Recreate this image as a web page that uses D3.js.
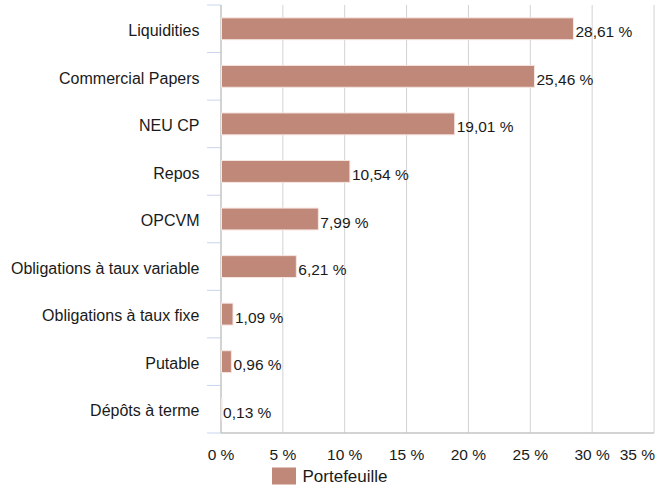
<!DOCTYPE html>
<html>
<head>
<meta charset="utf-8">
<script src="https://cdn.jsdelivr.net/npm/d3@7"></script>
<style>
  html, body { margin: 0; padding: 0; background: #fff; }
  svg { display: block; font-family: "Liberation Sans", Arial, Helvetica, sans-serif; }
</style>
</head>
<body>
<svg id="chart" width="672" height="489"></svg>
<script>
// Portfolio breakdown by instrument type (% of assets)
const categories = [
  "Liquidities", "Commercial Papers", "NEU CP", "Repos", "OPCVM",
  "Obligations à taux variable", "Obligations à taux fixe", "Putable", "Dépôts à terme"
];
const values = [28.61, 25.46, 19.01, 10.54, 7.99, 6.21, 1.09, 0.96, 0.13];
const valueLabels = ["28,61 %", "25,46 %", "19,01 %", "10,54 %", "7,99 %", "6,21 %", "1,09 %", "0,96 %", "0,13 %"];
const xTicks = [0, 5, 10, 15, 20, 25, 30, 35];
const xTickLabels = ["0 %", "5 %", "10 %", "15 %", "20 %", "25 %", "30 %", "35 %"];
const seriesName = "Portefeuille";

const svg = d3.select("#chart");
const plotLeft = 221, plotRight = 654, plotTop = 5, plotBottom = 433;
const barColor = "#c08878";
const textColor = "#1a1a1a";
const fontSize = 15.5;

const x = d3.scaleLinear().domain([0, 35]).range([plotLeft, plotRight]);
const y = d3.scaleBand().domain(categories).range([plotTop, plotBottom]).paddingInner(0.54).paddingOuter(0.27);
const band = d3.scaleBand().domain(categories).range([plotTop, plotBottom]);

// vertical gridlines
svg.append("g").selectAll("line").data(xTicks.slice(1)).join("line")
  .attr("x1", d => x(d)).attr("x2", d => x(d))
  .attr("y1", plotTop).attr("y2", plotBottom)
  .attr("stroke", "#d2d2d2").attr("stroke-width", 1);

// category boundary ticks on the left
const bounds = categories.map(c => band(c)).concat([plotBottom]);
svg.append("g").selectAll("line").data(bounds).join("line")
  .attr("x1", plotLeft - 14).attr("x2", plotLeft)
  .attr("y1", d => d).attr("y2", d => d)
  .attr("stroke", "#c9d5ee").attr("stroke-width", 1);

// axis lines
svg.append("line").attr("x1", plotLeft).attr("x2", plotLeft).attr("y1", plotTop).attr("y2", plotBottom)
  .attr("stroke", "#c4c4c4").attr("stroke-width", 1.5);
svg.append("line").attr("x1", plotLeft).attr("x2", plotRight).attr("y1", plotBottom).attr("y2", plotBottom)
  .attr("stroke", "#c4c4c4").attr("stroke-width", 1.5);

// bars
svg.append("g").selectAll("rect").data(values).join("rect")
  .attr("x", x(0) + 0.5)
  .attr("y", (d, i) => y(categories[i]))
  .attr("width", d => Math.max(0.5, x(d) - x(0) - 2))
  .attr("height", y.bandwidth())
  .attr("fill", barColor)
  .attr("stroke", "#f6e6e2").attr("stroke-width", 1);

// value labels
svg.append("g").selectAll("text").data(values).join("text")
  .attr("x", d => x(d) + 0.5)
  .attr("y", (d, i) => y(categories[i]) + y.bandwidth() / 2 + 8.5)
  .attr("font-size", fontSize).attr("fill", textColor)
  .text((d, i) => valueLabels[i]);

// category labels
svg.append("g").selectAll("text").data(categories).join("text")
  .attr("x", 199.5)
  .attr("y", d => band(d) + band.bandwidth() / 2 + 7.2)
  .attr("text-anchor", "end")
  .attr("font-size", 16).attr("fill", textColor)
  .text(d => d);

// x tick labels (last one kept inside the plot edge)
svg.append("g").selectAll("text").data(xTicks).join("text")
  .attr("x", (d, i) => i === xTicks.length - 1 ? plotRight + 1 : x(d))
  .attr("y", 459.5)
  .attr("text-anchor", (d, i) => i === xTicks.length - 1 ? "end" : "middle")
  .attr("font-size", fontSize).attr("fill", textColor)
  .text((d, i) => xTickLabels[i]);

// legend
const lg = svg.append("g").attr("transform", "translate(272,467.5)");
lg.append("rect").attr("width", 24).attr("height", 17).attr("fill", barColor);
lg.append("text").attr("x", 30.5).attr("y", 14.2)
  .attr("font-size", 17).attr("fill", textColor).text(seriesName);
</script>
</body>
</html>
